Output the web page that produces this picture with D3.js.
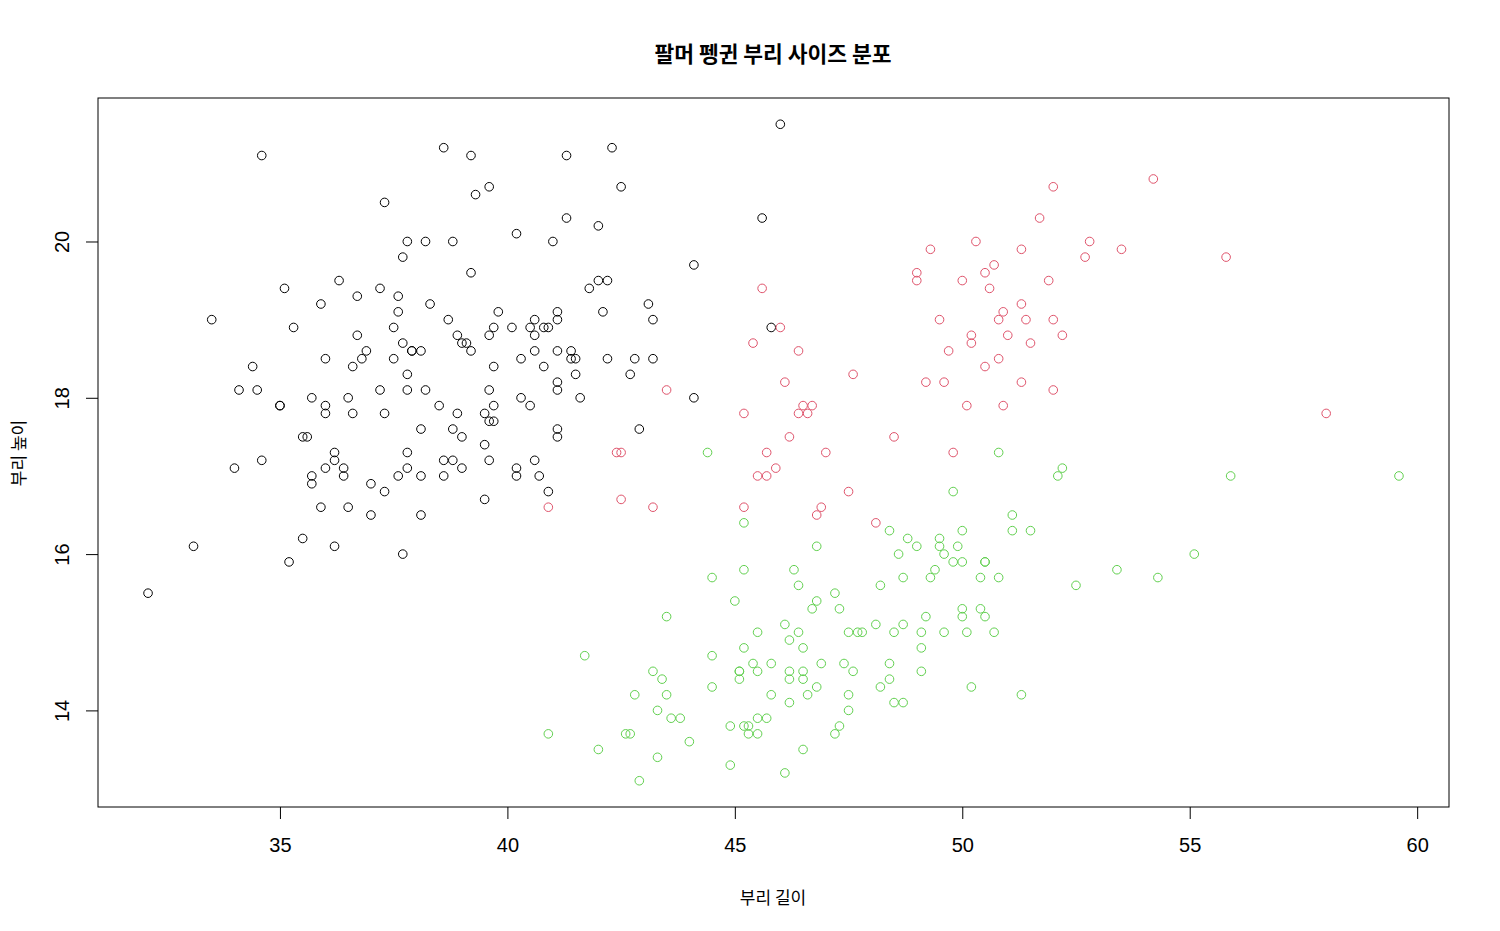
<!DOCTYPE html>
<html><head><meta charset="utf-8">
<script src="https://cdn.jsdelivr.net/npm/d3@7"></script>
<style>body{margin:0;background:#fff}</style>
</head><body>
<svg id="c" width="1500" height="931"></svg>
<script>
const species = ["Adelie", "Chinstrap", "Gentoo"];
const speciesColors = ["#000000", "#DF536B", "#61D04F"];
const xTicks = [35, 40, 45, 50, 55, 60];
const yTicks = [14, 16, 18, 20];
const adelieLen = [39.1,39.5,40.3,36.7,39.3,38.9,39.2,34.1,42.0,37.8,37.8,41.1,38.6,34.6,36.6,38.7,42.5,34.4,46.0,37.8,37.7,35.9,38.2,38.8,35.3,40.6,40.5,37.9,40.5,39.5,37.2,39.5,40.9,36.4,39.2,38.8,42.2,37.6,39.8,36.5,40.8,36.0,44.1,37.0,39.6,41.1,37.5,36.0,42.3,39.6,40.1,35.0,42.0,34.5,41.4,39.0,40.6,36.5,37.6,35.7,41.3,37.6,41.1,36.4,41.6,35.5,41.1,35.9,41.8,33.5,39.7,39.6,45.8,35.5,42.8,40.9,37.2,36.2,42.1,34.6,42.9,36.7,35.1,37.3,41.3,36.3,36.9,38.3,38.9,35.7,41.1,34.0,39.6,36.2,40.8,38.1,40.3,33.1,43.2,35.0,41.0,37.7,37.8,37.9,39.7,38.6,38.2,38.1,43.2,38.1,45.6,39.7,42.2,39.6,42.7,38.6,37.3,35.7,41.1,36.2,37.7,40.2,41.4,35.2,40.6,38.8,41.5,39.0,44.1,38.5,43.1,36.8,37.5,38.1,41.1,35.6,40.2,37.0,39.7,40.2,40.6,32.1,40.7,37.3,39.0,39.2,36.6,36.0,37.8,36.0,41.5];
const adelieDep = [18.7,17.4,18.0,19.3,20.6,17.8,19.6,18.1,20.2,17.1,17.3,17.6,21.2,21.1,17.8,19.0,20.7,18.4,21.5,18.3,18.7,19.2,18.1,17.2,18.9,18.6,17.9,18.6,18.9,16.7,18.1,17.8,18.9,17.0,21.1,20.0,18.5,19.3,19.1,18.0,18.4,18.5,19.7,16.9,18.8,19.0,18.9,17.9,21.2,17.7,18.9,17.9,19.5,18.1,18.6,17.5,18.8,16.6,19.1,16.9,21.1,17.0,18.2,17.1,18.0,16.2,19.1,16.6,19.4,19.0,18.4,17.2,18.9,17.5,18.5,16.8,19.4,16.1,19.1,17.2,17.6,18.8,19.4,17.8,20.3,19.5,18.6,19.2,18.8,18.0,18.1,17.1,18.1,17.3,18.9,18.6,18.5,16.1,18.5,17.9,20.0,16.0,20.0,18.6,18.9,17.2,20.0,17.0,19.0,16.5,20.3,17.7,19.5,20.7,18.3,17.0,20.5,17.0,18.6,17.2,19.8,17.0,18.5,15.9,19.0,17.6,18.3,17.1,18.0,17.9,19.2,18.5,18.5,17.6,17.5,17.5,20.1,16.5,17.9,17.1,17.2,15.5,17.0,16.8,18.7,18.6,18.4,17.8,18.1,17.1,18.5];
const chinLen = [46.5,50.0,51.3,45.4,52.7,45.2,46.1,51.3,46.0,51.3,46.6,51.7,47.0,52.0,45.9,50.5,50.3,58.0,46.4,49.2,42.4,48.5,43.2,50.6,46.7,52.0,50.5,49.5,46.4,52.8,40.9,54.2,42.5,51.0,49.7,47.5,47.6,52.0,46.9,53.5,49.0,46.2,50.9,45.5,50.9,50.8,50.1,49.0,51.5,49.8,48.1,51.4,45.7,50.7,42.5,52.2,45.2,49.3,50.2,45.6,51.9,46.8,45.7,55.8,43.5,49.6,50.8,50.2];
const chinDep = [17.9,19.5,19.2,18.7,19.8,17.8,18.2,18.2,18.9,19.9,17.8,20.3,17.3,18.1,17.1,19.6,20.0,17.8,18.6,18.2,17.3,17.5,16.6,19.4,17.9,19.0,18.4,19.0,17.8,20.0,16.6,20.8,16.7,18.8,18.6,16.8,18.3,20.7,16.6,19.9,19.5,17.5,19.1,17.0,17.9,18.5,17.9,19.6,18.7,17.3,16.4,19.0,17.3,19.7,17.3,18.8,16.6,19.9,18.8,19.4,19.5,16.5,17.0,19.8,18.1,18.2,19.0,18.7];
const gentooLen = [46.1,50.0,48.7,50.0,47.6,46.5,45.4,46.7,43.3,46.8,40.9,49.0,45.5,48.4,45.8,49.3,42.0,49.2,46.2,48.7,50.2,45.1,46.5,46.3,42.9,46.1,44.5,47.8,48.2,50.0,47.3,42.8,45.1,59.6,49.1,48.4,42.6,44.4,44.0,48.7,42.7,49.6,45.3,49.6,50.5,43.6,45.5,50.5,44.9,45.2,46.6,48.5,45.1,50.1,46.5,45.0,43.8,45.5,43.2,50.4,45.3,46.2,45.7,54.3,45.8,49.8,46.2,49.5,43.5,50.7,47.7,46.4,48.2,46.5,46.4,48.6,47.5,51.1,45.2,45.2,49.1,52.5,47.4,50.0,44.9,50.8,43.4,51.3,47.5,52.1,47.5,52.2,45.5,49.5,44.5,50.8,49.4,46.9,48.4,51.1,48.5,55.9,47.2,49.1,47.3,46.8,41.7,53.4,43.3,48.1,50.5,49.8,43.5,51.5,46.2,55.1,44.5,48.8,47.2,46.8,50.4,45.2,49.9];
const gentooDep = [13.2,16.3,14.1,15.2,14.5,13.5,14.6,15.3,13.4,15.4,13.7,16.1,13.7,14.6,14.6,15.7,13.5,15.2,14.5,15.1,14.3,14.5,14.5,15.8,13.1,15.1,14.3,15.0,14.3,15.3,15.3,14.2,14.5,17.0,14.8,16.3,13.7,17.3,13.6,15.7,13.7,16.0,13.7,15.0,15.9,13.9,13.9,15.9,13.3,15.8,14.2,14.1,14.4,15.0,14.4,15.4,13.9,15.0,14.5,15.3,13.8,14.9,13.9,15.7,14.2,16.8,14.4,16.2,14.2,15.0,15.0,15.6,15.6,14.8,15.0,16.0,14.2,16.3,13.8,16.4,14.5,15.6,14.6,15.9,13.8,17.3,14.4,14.2,14.0,17.0,15.0,17.1,14.5,16.1,14.7,15.7,15.8,14.6,14.4,16.5,15.0,17.0,15.5,15.0,13.8,16.1,14.7,15.8,14.0,15.1,15.2,15.9,15.2,16.3,14.1,16.0,15.7,16.2,13.7,14.3,15.7,14.8,16.1];

const groups = [
  {len: adelieLen, dep: adelieDep},
  {len: chinLen, dep: chinDep},
  {len: gentooLen, dep: gentooDep}
];
const points = [];
groups.forEach((g, i) => g.len.forEach((v, j) => points.push({x: v, y: g.dep[j], s: i})));

const svg = d3.select("#c");
const L = 98, R = 1449, T = 98, B = 807;
const allX = points.map(p => p.x), allY = points.map(p => p.y);
const xr = d3.extent(allX), yr = d3.extent(allY);
const xp = (xr[1]-xr[0])*0.04, yp = (yr[1]-yr[0])*0.04;
const x = d3.scaleLinear().domain([xr[0]-xp, xr[1]+xp]).range([L, R]);
const y = d3.scaleLinear().domain([yr[0]-yp, yr[1]+yp]).range([B, T]);

const font = "Liberation Sans, Arial, sans-serif";

svg.append("g").selectAll("circle").data(points).enter().append("circle")
  .attr("cx", d => x(d.x)).attr("cy", d => y(d.y)).attr("r", 4.3)
  .attr("fill", "none").attr("stroke", d => speciesColors[d.s]).attr("stroke-width", 1);

svg.append("rect").attr("x", L).attr("y", T).attr("width", R-L).attr("height", B-T)
  .attr("fill", "none").attr("stroke", "#000").attr("stroke-width", 1);

const xa = svg.append("g").attr("transform", `translate(0,${B})`)
  .call(d3.axisBottom(x).tickValues(xTicks).tickSize(12).tickFormat(d3.format("d")));
xa.select(".domain").remove();
xa.selectAll("text").attr("font-family", font).attr("font-size", 20).attr("fill", "#000")
  .attr("y", 38).attr("dy", null).attr("dominant-baseline", "central");

const ya = svg.append("g").attr("transform", `translate(${L},0)`)
  .call(d3.axisLeft(y).tickValues(yTicks).tickSize(12).tickFormat(d3.format("d")));
ya.select(".domain").remove();
ya.selectAll("text").attr("font-family", font).attr("font-size", 20).attr("fill", "#000")
  .attr("x", null).attr("dy", null)
  .attr("text-anchor", "middle")
  .attr("transform", "translate(-36,0) rotate(-90)")
  .attr("dominant-baseline", "central");

const kfont = "'Noto Sans CJK KR', sans-serif";
svg.append("text").attr("x", 773).attr("y", 52).attr("text-anchor", "middle")
  .attr("dominant-baseline", "central")
  .attr("font-family", kfont).attr("font-weight", "bold").attr("font-size", 21.5)
  .text("팔머 펭귄 부리 사이즈 분포");
svg.append("text").attr("x", 773).attr("y", 896).attr("text-anchor", "middle")
  .attr("dominant-baseline", "central")
  .attr("font-family", kfont).attr("font-size", 17)
  .text("부리 길이");
svg.append("text").attr("transform", "translate(17,453) rotate(-90)").attr("text-anchor", "middle")
  .attr("dominant-baseline", "central")
  .attr("font-family", kfont).attr("font-size", 17)
  .text("부리 높이");
</script>
</body></html>
